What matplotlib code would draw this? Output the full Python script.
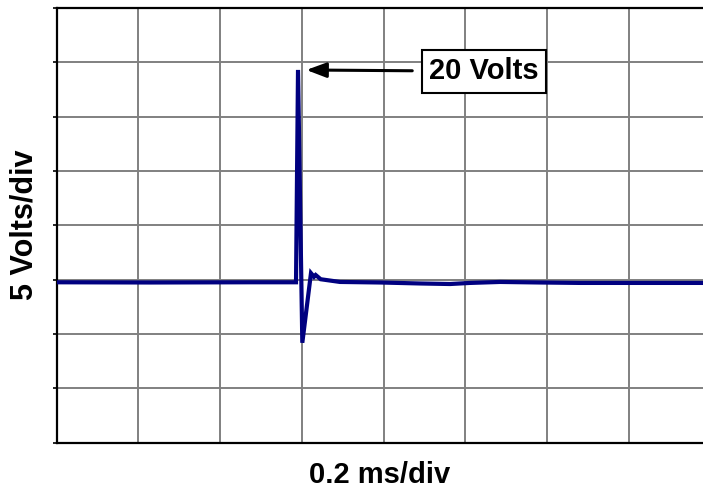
import numpy as np
import matplotlib
matplotlib.use("Agg")
import matplotlib.pyplot as plt

plt.rcParams['font.family'] = ['Liberation Sans', 'DejaVu Sans']

# scope trace: time in ms, voltage in V
t_ms = [0.0, 0.2286, 0.4731, 0.5856, 0.5905, 0.6010, 0.6222, 0.6296,
        0.6337, 0.6459, 0.6932, 0.7910, 0.8888, 0.9621, 1.0110, 1.0844,
        1.1822, 1.2800, 1.3778, 1.5807]
volts = [-0.25, -0.27, -0.25, -0.25, 19.3, -5.82, 0.59, 0.25,
         0.42, 0.03, -0.22, -0.27, -0.36, -0.41, -0.31, -0.22,
         -0.27, -0.31, -0.31, -0.31]

ms_per_div = 0.2
v_per_div = 5
x_max = 1.5807
y_lo, y_hi = -15, 25
peak_label = "20 Volts"

fig = plt.figure(figsize=(7.03, 4.92), dpi=100)
ax = fig.add_axes([56.5 / 703, 1 - 442.5 / 492, 1 - 56.5 / 703, (442.5 - 8) / 492])

ax.plot(t_ms, volts, color='#000080', lw=3.0, solid_joinstyle='miter', zorder=3)

ax.set_xlim(0, x_max)
ax.set_ylim(y_lo, y_hi)
ax.set_xticks(np.arange(0, x_max, ms_per_div))
ax.set_yticks(np.arange(y_lo, y_hi + 0.1, v_per_div))
ax.grid(True, color='#808080', lw=1.4)
ax.set_axisbelow(True)
ax.tick_params(axis='x', length=0, labelbottom=False)
ax.tick_params(axis='y', length=3, width=1.2, direction='out', labelleft=False)

for side in ['left', 'bottom', 'top']:
    ax.spines[side].set_linewidth(1.6)
    ax.spines[side].set_color('black')
ax.spines['right'].set_visible(False)

ax.set_xlabel("0.2 ms/div", fontsize=21, fontweight='bold', labelpad=13)
ax.set_ylabel("5 Volts/div", fontsize=22, fontweight='bold', labelpad=9)

i_pk = int(np.argmax(volts))
ax.annotate(peak_label, xy=(t_ms[i_pk], volts[i_pk]), xycoords='data',
            xytext=(134, -1), textcoords='offset points',
            ha='center', va='center', fontsize=21, fontweight='bold',
            bbox=dict(boxstyle='square,pad=0.25', fc='white', ec='black', lw=1.5),
            arrowprops=dict(arrowstyle='-|>,head_length=1.2,head_width=0.45',
                            mutation_scale=10, lw=2.2, color='black',
                            shrinkA=6.5, shrinkB=6))

fig.savefig("out.png", dpi=100)
